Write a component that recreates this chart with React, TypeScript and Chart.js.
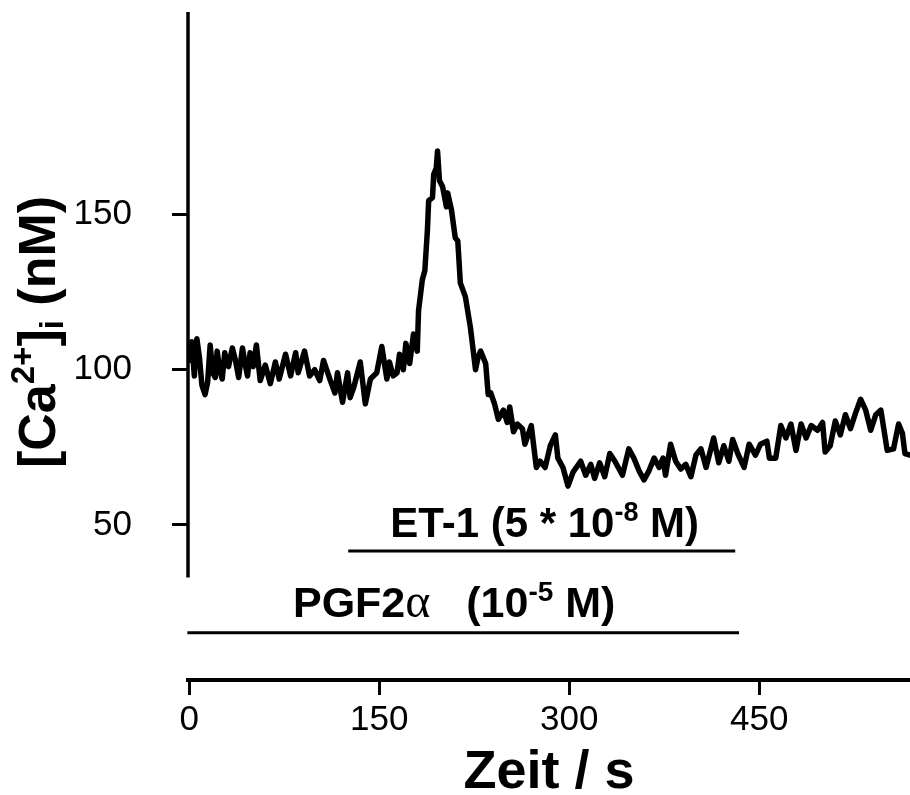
import React, { useEffect, useRef } from 'react';
import { Chart, registerables } from 'chart.js';
Chart.register(...registerables);

// time (s)
const timeS = [0, 2, 4, 6, 8, 10, 12.5, 14.5, 16.5, 18.5, 20.5, 22, 24, 26, 28, 31, 34, 36.5, 39, 42, 44, 46, 48, 50.5, 53, 56, 60, 64, 68, 71, 76, 80, 84, 86, 91, 95, 99, 103, 106, 111, 115, 117, 121, 125, 127, 130, 135, 139, 143, 148, 152, 156, 158, 161, 164, 166, 169, 171, 174, 177, 180, 181, 184, 186, 188, 189, 192, 193, 195, 196, 197.5, 200, 203, 204, 207, 210, 212, 214, 218, 222, 226, 228, 230, 234, 236, 238, 241, 244, 248, 251, 253, 256, 259, 263, 265, 270, 274, 277, 281, 285, 289, 291, 295, 299, 303, 309, 313, 317, 320, 324, 328, 332, 336, 342, 347, 351, 355, 359, 363, 367, 371, 374, 376, 380, 384, 388, 392, 396, 400, 404, 408, 414, 418, 422, 426, 429, 433, 438, 442, 447, 451, 456, 458, 463, 467, 471, 475, 479, 483, 487, 491, 496, 500, 502, 506, 510, 514, 518, 522, 526, 530, 534, 538, 542, 546, 551, 556, 560, 563, 565, 569];
// [Ca2+]i (nM)
const caNM = [103, 109, 98, 110, 104, 95, 92, 96, 108, 99, 97.5, 106, 100, 97, 105.5, 101, 107, 103, 97.5, 107, 102, 98, 105.5, 101, 108, 96.5, 101.5, 95.5, 102.5, 97, 105, 98, 105.5, 99, 106, 98, 100, 96.5, 103, 97, 92.5, 99, 89.5, 99, 91, 94.5, 102.5, 89, 97, 99, 107.5, 97, 102.5, 98, 99, 105, 100, 108.5, 102, 111.5, 106, 119, 129, 132, 145, 154.5, 155.5, 163, 165, 170.5, 161, 159, 152.5, 157, 151.5, 142.5, 141.5, 128, 123.5, 113.5, 100, 104, 106, 102, 92, 92.5, 89, 84, 87, 83, 88, 80, 82.5, 81, 76, 82, 68.5, 70.5, 68.5, 75.5, 79, 71.5, 68.5, 62.5, 67, 70.5, 66, 69.5, 65, 70, 65.5, 73, 70.5, 66, 74.5, 71.5, 67.5, 64.5, 67.5, 71.5, 68.5, 71.5, 66, 76, 70.5, 68, 69.5, 65.5, 72.5, 74.5, 68.5, 78, 70, 75.5, 70.5, 77.5, 73, 68.5, 76, 72.5, 76, 77, 71.5, 71.5, 82, 78, 82.5, 74, 82.5, 78, 82, 80.5, 83, 73.5, 75.5, 83.5, 79, 85.5, 81, 86, 90.5, 87, 80.5, 85.5, 87, 74, 74.5, 82.5, 79.5, 73, 72.5];

const xTicks = [0, 150, 300, 450];
const yTicks = [50, 100, 150];
const xRange = [-1, 569];
const yRange = [0, 215.3];
const yAxisBottom = 33;

// application bars (time span in s, drawn at y level)
const et1Span = [125.5, 431];
const et1Level = 41.6;
const pgfSpan = [-1.5, 434];
const pgfLevel = 15.2;

const FONT = '"Liberation Sans", Arial, sans-serif';
const SERIF = '"Liberation Serif", "Times New Roman", serif';

type Part = { text: string; font: string; dy?: number };

function drawParts(ctx: CanvasRenderingContext2D, parts: Part[], cx: number, y: number) {
  let total = 0;
  for (const p of parts) { ctx.font = p.font; total += ctx.measureText(p.text).width; }
  let x = cx - total / 2;
  ctx.textAlign = 'left';
  ctx.textBaseline = 'alphabetic';
  for (const p of parts) {
    ctx.font = p.font;
    ctx.fillText(p.text, x, y + (p.dy || 0));
    x += ctx.measureText(p.text).width;
  }
}

export default function App() {
  const ref = useRef<HTMLCanvasElement>(null);
  useEffect(() => {
    const annot = {
      id: 'annot',
      afterDraw(chart: any) {
        const { ctx, scales, chartArea } = chart;
        const x = scales.x, y = scales.y;
        ctx.save();
        ctx.fillStyle = '#000';
        ctx.strokeStyle = '#000';
        // y axis line (shortened)
        ctx.lineWidth = 3.5;
        ctx.beginPath();
        ctx.moveTo(chartArea.left, chartArea.top);
        ctx.lineTo(chartArea.left, y.getPixelForValue(yAxisBottom));
        ctx.stroke();

        const B = (s: number) => `bold ${s}px ${FONT}`;
        // ET-1 label
        const etCx = (x.getPixelForValue(et1Span[0]) + x.getPixelForValue(et1Span[1])) / 2 + 3;
        const etY = y.getPixelForValue(et1Level) - 14;
        drawParts(ctx, [
          { text: 'ET-1 (5 * 10', font: B(42) },
          { text: '-8', font: B(27), dy: -16 },
          { text: ' M)', font: B(42) },
        ], etCx, etY);

        // PGF2α label
        const pgCx = (x.getPixelForValue(pgfSpan[0]) + x.getPixelForValue(pgfSpan[1])) / 2 - 9;
        const pgY = y.getPixelForValue(pgfLevel) - 16;
        drawParts(ctx, [
          { text: 'PGF2', font: B(43) },
          { text: 'α', font: `48px ${SERIF}` },
          { text: '   (10', font: B(43) },
          { text: '-5', font: B(28), dy: -16 },
          { text: ' M)', font: B(43) },
        ], pgCx, pgY);

        // y title
        ctx.save();
        ctx.translate(55, (chartArea.top + chartArea.bottom) / 2 - 14);
        ctx.rotate(-Math.PI / 2);
        drawParts(ctx, [
          { text: '[Ca', font: B(52) },
          { text: '2+', font: B(33), dy: -21 },
          { text: ']', font: B(52) },
          { text: 'i', font: B(33), dy: 8 },
          { text: ' (nM)', font: B(52) },
        ], 0, 0);
        ctx.restore();
        ctx.restore();
      },
    };

    const chart = new Chart(ref.current!, {
      type: 'line',
      data: {
        datasets: [
          {
            data: timeS.map((t, i) => ({ x: t, y: caNM[i] })),
            borderColor: '#000',
            borderWidth: 5.5,
            pointRadius: 0,
            tension: 0,
            borderJoinStyle: 'round',
            borderCapStyle: 'round',
          },
          {
            data: [{ x: et1Span[0], y: et1Level }, { x: et1Span[1], y: et1Level }],
            borderColor: '#000', borderWidth: 3, pointRadius: 0, clip: false as any,
          },
          {
            data: [{ x: pgfSpan[0], y: pgfLevel }, { x: pgfSpan[1], y: pgfLevel }],
            borderColor: '#000', borderWidth: 3, pointRadius: 0, clip: false as any,
          },
        ],
      },
      options: {
        responsive: false,
        animation: false,
        events: [],
        layout: { padding: { top: 12, left: 0, right: 0, bottom: 0 } },
        plugins: { legend: { display: false }, tooltip: { enabled: false } },
        scales: {
          x: {
            type: 'linear',
            min: xRange[0],
            max: xRange[1],
            border: { display: true, width: 4, color: '#000' },
            grid: { display: true, drawOnChartArea: false, drawTicks: true, tickLength: 15, tickWidth: 3, tickColor: '#000', color: '#000' },
            ticks: { font: { family: FONT, size: 35 }, color: '#000', padding: 4, maxRotation: 0, autoSkip: false },
            title: { display: true, text: 'Zeit / s', color: '#000', font: { family: FONT, size: 54, weight: 'bold', lineHeight: 0.8 }, padding: 0 },
            afterBuildTicks: (s: any) => { s.ticks = xTicks.map((v) => ({ value: v })); },
            afterFit: (s: any) => { s.height = 115; s.paddingLeft = 0; s.paddingRight = 0; },
          },
          y: {
            type: 'linear',
            min: yRange[0],
            max: yRange[1],
            border: { display: false },
            grid: { display: true, drawOnChartArea: false, drawTicks: true, tickLength: 16, tickWidth: 3, tickColor: '#000', color: '#000' },
            ticks: { font: { family: FONT, size: 35 }, color: '#000', padding: 40 },
            afterBuildTicks: (s: any) => { s.ticks = yTicks.map((v) => ({ value: v })); },
            afterFit: (s: any) => { s.width = 188; s.paddingTop = 0; s.paddingBottom = 0; },
          },
        },
      },
      plugins: [annot],
    } as any);
    return () => chart.destroy();
  }, []);
  return (
    <div style={{ position: 'fixed', left: 0, top: 0, width: 910, height: 795, background: '#fff' }}>
      <canvas ref={ref} width={910} height={795} />
    </div>
  );
}
